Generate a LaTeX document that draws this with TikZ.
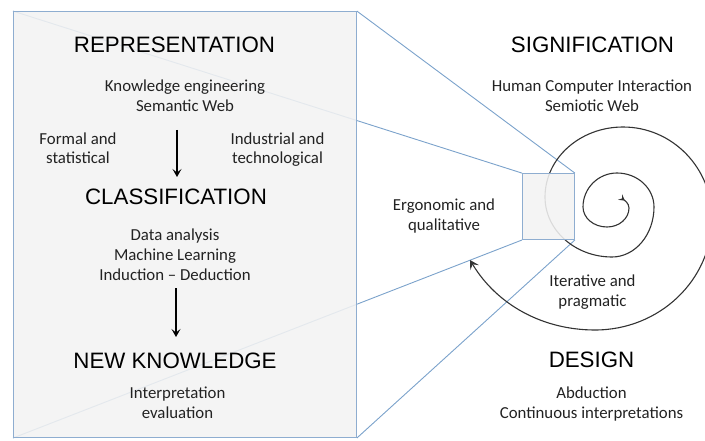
\documentclass[tikz,border=0pt]{standalone}
\usepackage{fontspec}
\setmainfont{Carlito}
\newfontfamily\headfont{Liberation Sans}
\usetikzlibrary{arrows.meta}
\pgfdeclarelayer{bg}
\pgfsetlayers{bg,main}
\definecolor{boxfill}{HTML}{F2F2F2}
\definecolor{boxline}{HTML}{8EADD0}
\definecolor{zoomline}{HTML}{7BA2CB}
\definecolor{ink}{HTML}{222222}
\definecolor{spiralgray}{HTML}{333333}
\begin{document}
\begin{tikzpicture}[x=1pt,y=1pt,
  head/.style={font=\headfont\fontsize{22.3}{26}\selectfont, text=black, inner sep=0pt, anchor=base},
  body/.style={font=\fontsize{16.8}{20}\selectfont, text=ink, align=center, inner sep=0pt, anchor=base},
  zoombox/.style={draw=boxline, line width=0.9pt, fill=boxfill, fill opacity=0.88, inner sep=0pt},
  zoomray/.style={draw=zoomline, line width=0.9pt},
  flow/.style={draw=black, line width=1.1pt, -{Stealth[length=8pt,width=9pt,inset=3.5pt]}},
  spiral/.style={draw=spiralgray, line width=1.1pt}]
\useasboundingbox (0,0) rectangle (705,440);
\node[zoombox, minimum width=343pt, minimum height=426pt, anchor=south west] (big) at (13,2) {};
\node[zoombox, minimum width=52pt, minimum height=66pt, anchor=south west] (small) at (522,200) {};
\begin{pgfonlayer}{bg}
\draw[zoomray] (big.north west) -- (small.north west);
\draw[zoomray] (big.north east) -- (small.north east);
\draw[zoomray] (big.south west) -- (small.south west);
\draw[zoomray] (big.south east) -- (small.south east);
\draw[spiral, {Stealth[reversed,length=6pt,width=7pt,inset=2.5pt]}-{Stealth[length=9pt,width=10pt,inset=4pt]}]
  (620,243) .. controls (624,240) and (629,237) .. (629,232)
  .. controls (629,221.5) and (619.2,213) .. (607,213)
  .. controls (593.7,213) and (583,222) .. (583,233)
  .. controls (583,251.8) and (598.2,267) .. (617,267)
  .. controls (637.4,267) and (654,251.8) .. (654,233)
  .. controls (654,205.4) and (635.2,183) .. (612,183)
  .. controls (575,183) and (545,209.9) .. (545,243)
  .. controls (545,281.7) and (579.9,313) .. (623,313)
  .. controls (672.2,313) and (712,272.3) .. (712,222)
  .. controls (712,160.1) and (659.6,110) .. (595,110)
  .. controls (543,110) and (497,135) .. (470,180);
\end{pgfonlayer}
\node[head] (rep) at (174.5,387) {REPRESENTATION};
\node[body] (repsub) at (185,328) {Knowledge engineering\\Semantic Web};
\node[body] (formal) at (78,276) {Formal and\\statistical};
\node[body] (indus) at (277.5,276) {Industrial and\\technological};
\node[head] (cla) at (176,235) {CLASSIFICATION};
\node[body] (clasub) at (175,160) {Data analysis\\Machine Learning\\Induction – Deduction};
\node[head] (nk) at (175,72) {NEW KNOWLEDGE};
\node[body] (nksub) at (177.5,22) {Interpretation\\evaluation};
\node[head] (sig) at (592.5,387) {SIGNIFICATION};
\node[body] (sigsub) at (592,328) {Human Computer Interaction\\Semiotic Web};
\node[body] (ergo) at (444,210) {Ergonomic and\\qualitative};
\node[body] (iter) at (592.5,134) {Iterative and\\pragmatic};
\node[head] (des) at (591.5,73) {DESIGN};
\node[body] (dessub) at (591.5,22) {Abduction\\Continuous interpretations};
\coordinate (a1s) at (177,310);
\coordinate (a1e) at (177,263);
\coordinate (a2s) at (176,152);
\coordinate (a2e) at (176,103);
\draw[flow] (a1s) -- (a1e);
\draw[flow] (a2s) -- (a2e);
\end{tikzpicture}
\end{document}
